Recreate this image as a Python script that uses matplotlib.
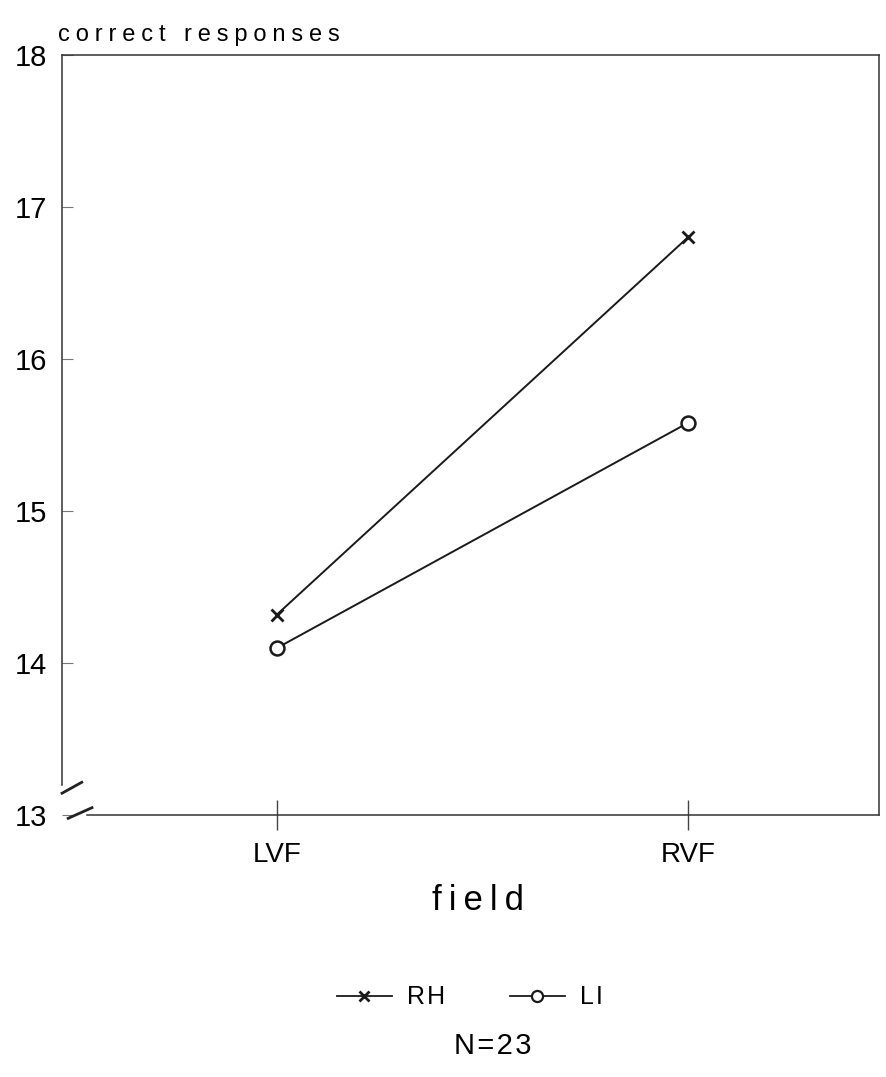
import matplotlib.pyplot as plt
from matplotlib.lines import Line2D

plt.rcParams['font.family'] = ['Liberation Sans', 'DejaVu Sans']

fields = ['LVF', 'RVF']
rh = [14.32, 16.8]
li = [14.1, 15.58]
yticks = [13, 14, 15, 16, 17, 18]


def spaced(s, sp='\u2009'):
    # old plotter lettering is widely spaced
    return sp.join(s)


fig = plt.figure(figsize=(8.86, 10.77), dpi=100)
ax = fig.add_axes([0.070, 0.243, 0.922, 0.706])

x = list(range(len(fields)))
ax.plot(x, rh, color='#1a1a1a', lw=1.4, marker='x', ms=9, mew=2.0, label='RH')
ax.plot(x, li, color='#1a1a1a', lw=1.4, marker='o', ms=10, mew=1.8,
        mfc='white', label='LI')

ax.set_xlim(-0.523, 1.465)
ax.set_ylim(13, 18)
ax.set_yticks(yticks)
ax.set_yticklabels([str(t) for t in yticks], fontsize=21)
ax.tick_params(axis='y', direction='in', length=8, width=0.8,
               color='#777777', pad=11)
ax.set_xticks(x)
ax.set_xticklabels(fields, fontsize=20)
ax.tick_params(axis='x', direction='inout', length=22, width=1,
               color='#444444', pad=8)

for s in ax.spines.values():
    s.set_linewidth(1.1)
    s.set_color('#333333')
ax.spines['left'].set_bounds(13.2, 18)
ax.spines['bottom'].set_bounds(-0.462, 1.465)

# axis break marks
ax.plot([-0.523, -0.475], [13.145, 13.217], color='#222222', lw=2, clip_on=False)
ax.plot([-0.508, -0.45], [12.98, 13.05], color='#222222', lw=2, clip_on=False)

ax.text(-0.005, 1.012, spaced('correct responses', '\u2005'),
        transform=ax.transAxes, fontsize=17, ha='left', va='bottom')
fig.text(0.54, 0.164, spaced('field'), fontsize=25, ha='center', va='center')

handles = [Line2D([], [], color='#1a1a1a', lw=1.3, marker='x', ms=7, mew=2.0),
           Line2D([], [], color='#1a1a1a', lw=1.3, marker='o', ms=8, mew=1.6,
                  mfc='white')]
fig.legend(handles, [spaced('RH', '\u200a'), spaced('LI', '\u200a')],
           loc='center', bbox_to_anchor=(0.53, 0.074),
           ncol=2, frameon=False, fontsize=18, handlelength=2.2,
           columnspacing=2.6, handletextpad=0.6)
fig.text(0.556, 0.016, spaced('N=23', '\u200a'), fontsize=21, ha='center',
         va='bottom')

fig.savefig('out.png', dpi=100)
